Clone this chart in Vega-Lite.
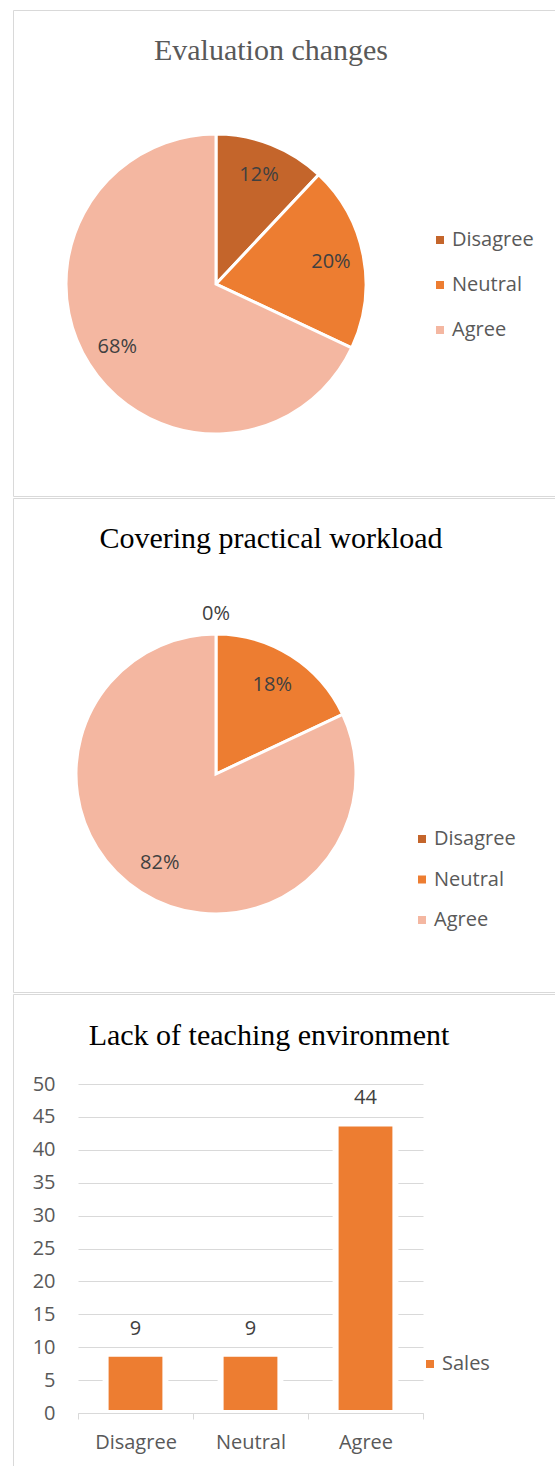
{
  "$schema": "https://vega.github.io/schema/vega-lite/v6.json",
  "padding": {"left": 12, "top": 9, "right": 0, "bottom": 0},
  "background": "white",
  "spacing": 2,
  "bounds": "flush",
  "config": {"view": {"stroke": "#d9d9d9", "strokeWidth": 1}, "font": "Open Sans"},
  "resolve": {"scale": {"color": "independent", "theta": "independent"}, "legend": {"color": "independent"}},
  "vconcat": [
    {
      "width": 548,
      "height": 486,
      "view": {"stroke": "#d9d9d9", "strokeWidth": 1, "fill": "white"},
      "title": {"text": "Evaluation changes", "font": "Liberation Serif", "fontSize": 30, "fontWeight": "normal", "color": "#595959", "anchor": "middle", "frame": "group", "offset": -80, "baseline": "alphabetic", "dx": -16},
      "data": {"values": [
        {"response": "Disagree", "idx": 1, "value": 0.12},
        {"response": "Neutral", "idx": 2, "value": 0.20},
        {"response": "Agree", "idx": 3, "value": 0.68}
      ]},
      "layer": [
        {
          "mark": {"type": "arc", "x": 203, "y": 274, "outerRadius": 150, "stroke": "white", "strokeWidth": 3},
          "encoding": {
            "theta": {"field": "value", "type": "quantitative", "stack": true},
            "order": {"field": "idx", "type": "quantitative"},
            "color": {"field": "response", "type": "nominal", "sort": ["Disagree", "Neutral", "Agree"],
              "scale": {"domain": ["Disagree", "Neutral", "Agree"], "range": ["#C4652B", "#ED7D31", "#F4B7A1"]},
              "legend": {"orient": "none", "direction": "vertical", "legendX": 417, "legendY": 220, "title": null, "symbolType": "square", "symbolSize": 64, "symbolStrokeWidth": 0, "labelFontSize": 20, "labelColor": "#595959", "labelFont": "Open Sans", "rowPadding": 25, "labelOffset": 2, "padding": 0}}
          }
        },
        {
          "transform": [{"filter": "datum.value > 0"}],
          "mark": {"type": "text", "x": 203, "y": 274, "radius": 117, "fontSize": 20, "color": "#404040", "font": "Open Sans"},
          "encoding": {
            "theta": {"field": "value", "type": "quantitative", "stack": true},
            "order": {"field": "idx", "type": "quantitative"},
            "text": {"field": "value", "type": "quantitative", "format": ".0%"}
          }
        }
      ]
    },
    {
      "width": 542,
      "height": 494,
      "view": {"stroke": "#d9d9d9", "strokeWidth": 1, "fill": "white"},
      "title": {"text": "Covering practical workload", "font": "Liberation Serif", "fontSize": 30, "fontWeight": "normal", "color": "#000000", "anchor": "middle", "frame": "group", "offset": -80, "baseline": "alphabetic", "dx": -13},
      "data": {"values": [
        {"response": "Disagree", "idx": 1, "value": 0},
        {"response": "Neutral", "idx": 2, "value": 0.18},
        {"response": "Agree", "idx": 3, "value": 0.82}
      ]},
      "layer": [
        {
          "mark": {"type": "arc", "x": 203, "y": 276, "outerRadius": 140, "stroke": "white", "strokeWidth": 3},
          "encoding": {
            "theta": {"field": "value", "type": "quantitative", "stack": true},
            "order": {"field": "idx", "type": "quantitative"},
            "color": {"field": "response", "type": "nominal", "sort": ["Disagree", "Neutral", "Agree"],
              "scale": {"domain": ["Disagree", "Neutral", "Agree"], "range": ["#C4652B", "#ED7D31", "#F4B7A1"]},
              "legend": {"orient": "none", "direction": "vertical", "legendX": 399, "legendY": 331, "title": null, "symbolType": "square", "symbolSize": 64, "symbolStrokeWidth": 0, "labelFontSize": 20, "labelColor": "#595959", "labelFont": "Open Sans", "rowPadding": 20.5, "labelOffset": 2, "padding": 0}}
          }
        },
        {
          "transform": [{"filter": "datum.value > 0"}],
          "mark": {"type": "text", "x": 203, "y": 276, "radius": 105, "fontSize": 20, "color": "#404040", "font": "Open Sans"},
          "encoding": {
            "theta": {"field": "value", "type": "quantitative", "stack": true},
            "order": {"field": "idx", "type": "quantitative"},
            "text": {"field": "value", "type": "quantitative", "format": ".0%"}
          }
        },
        {
          "transform": [{"filter": "datum.value == 0"}],
          "mark": {"type": "text", "x": 203, "y": 276, "radius": 160, "fontSize": 20, "color": "#404040", "font": "Open Sans"},
          "encoding": {
            "theta": {"field": "value", "type": "quantitative", "stack": true},
            "order": {"field": "idx", "type": "quantitative"},
            "text": {"field": "value", "type": "quantitative", "format": ".0%"}
          }
        }
      ]
    },
    {
      "width": 548,
      "height": 480,
      "title": {"text": "Lack of teaching environment", "font": "Liberation Serif", "fontSize": 30, "fontWeight": "normal", "color": "#000000", "anchor": "middle", "frame": "group", "offset": -81, "baseline": "alphabetic", "dx": -18},
      "data": {"values": [
        {"response": "Disagree", "count": 9, "series": "Sales"},
        {"response": "Neutral", "count": 9, "series": "Sales"},
        {"response": "Agree", "count": 44, "series": "Sales"}
      ]},
      "encoding": {
        "x": {"field": "response", "type": "nominal", "sort": ["Disagree", "Neutral", "Agree"],
          "scale": {"range": [65, 410], "paddingInner": 0, "paddingOuter": 0},
          "axis": {"title": null, "tickBand": "extent", "domainColor": "#d9d9d9", "tickColor": "#d9d9d9", "tickSize": 6, "labelAngle": 0, "labelFontSize": 20, "labelColor": "#595959", "labelFont": "Open Sans", "labelPadding": 13, "offset": -61, "zindex": 1, "grid": false}},
        "y": {"field": "count", "type": "quantitative",
          "scale": {"domain": [0, 50], "range": [419, 90], "nice": false},
          "axis": {"title": null, "values": [0, 5, 10, 15, 20, 25, 30, 35, 40, 45, 50], "grid": true, "gridColor": "#d9d9d9", "domain": false, "ticks": false, "tickSize": 0, "labelPadding": 8, "offset": -50, "labelFontSize": 20, "labelColor": "#595959", "labelFont": "Open Sans"}}
      },
      "layer": [
        {
          "mark": {"type": "bar", "stroke": "white", "strokeWidth": 6, "width": {"band": 0.52}},
          "encoding": {
            "color": {"field": "series", "type": "nominal", "scale": {"domain": ["Sales"], "range": ["#ED7D31"]},
              "legend": {"orient": "none", "direction": "vertical", "legendX": 407, "legendY": 360, "title": null, "symbolType": "square", "symbolSize": 64, "symbolStrokeWidth": 0, "labelFontSize": 20, "labelColor": "#595959", "labelFont": "Open Sans", "labelOffset": 2, "padding": 0}}
          }
        },
        {
          "mark": {"type": "text", "baseline": "alphabetic", "dy": -19, "fontSize": 20, "color": "#404040", "font": "Open Sans"},
          "encoding": {"text": {"field": "count", "type": "quantitative"}}
        }
      ]
    }
  ]
}
